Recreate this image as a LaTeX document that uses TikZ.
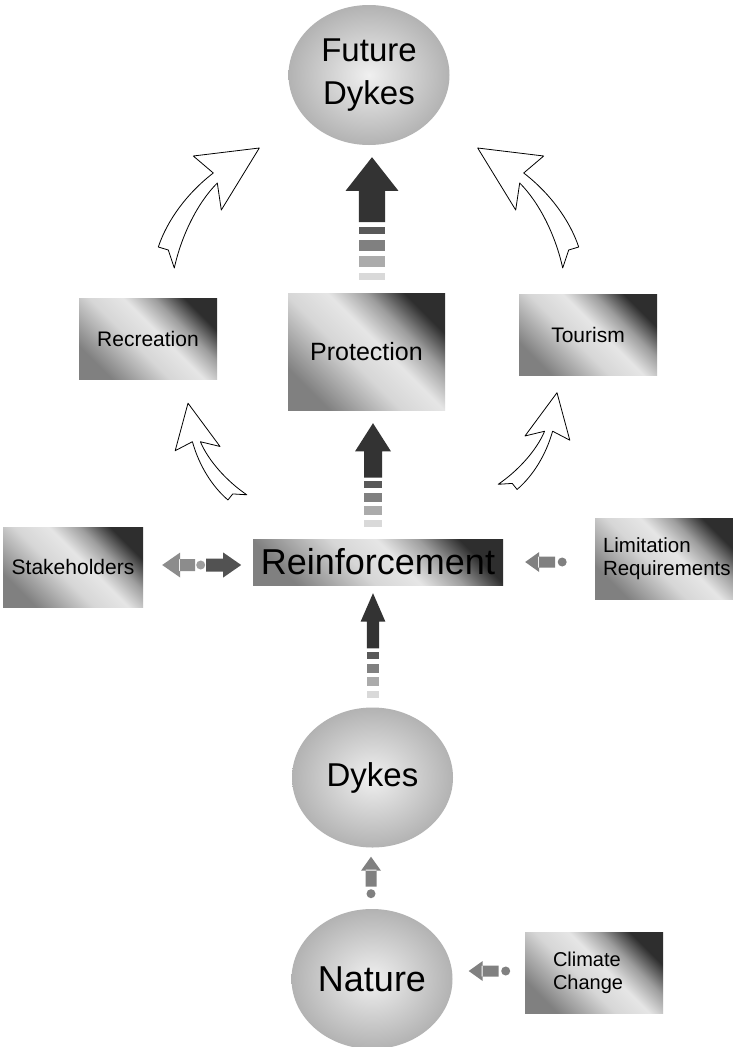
\documentclass[tikz,border=0pt]{standalone}
\usepackage{fontspec}
\setmainfont{Liberation Sans}
\usetikzlibrary{shapes.geometric}
\pgfdeclareverticalshading{panelshade}{100bp}{color(0bp)=(black!50); color(25bp)=(black!50); color(44bp)=(black!16); color(55bp)=(black!10); color(65bp)=(black!38); color(75bp)=(black!82); color(100bp)=(black!82)}
\tikzset{
orb/.style={ellipse, inner sep=0pt, minimum width=161pt, minimum height=140pt, align=center, inner color=gray!12, outer color=gray!60, font=\fontsize{33}{43}\selectfont},
panel/.style={rectangle, inner sep=0pt, minimum width=138pt, minimum height=81pt, shade, shading=panelshade, shading angle=-45, font=\fontsize{21}{23}\selectfont},
pics/fatup/.style={code={
\fill[black!80] (0,0) -- (20,30) -- (10,30) -- (10,58) -- (-10,58) -- (-10,30) -- (-20,30) -- cycle;
\fill[black!65] (-10,62) rectangle (10,69);
\fill[black!50] (-10,74) rectangle (10,84);
\fill[black!33] (-10,88) rectangle (10,98);
\fill[black!15] (-10,103) rectangle (10,110);
}},
pics/greyarrow/.style={code={
\fill[black!50] (0,0) -- (14,-10) -- (14,10) -- cycle (13,-5.5) rectangle (30,5.5) (37,0) circle (4.5);
}},
pics/twoway/.style={code={
\fill[black!45] (0,0) -- (18,-12.5) -- (18,12.5) -- cycle (17,-6) rectangle (33,6);
\fill[black!38] (38.5,0) circle (4.5);
\fill[black!68] (79,0) -- (61,-12.5) -- (61,12.5) -- cycle (44,-6.5) rectangle (62,6.5);
}},
pics/hollowarrow/.style={code={
\draw[line width=0.8pt, line join=round, fill=white] (0,0) -- (-66,8) -- (-46,25) .. controls (-72,45) and (-92,72) .. (-101,99) -- (-91,102) -- (-85,120) .. controls (-78,88) and (-62,55) .. (-42,35) -- (-38,62) -- cycle;
}}
}
\begin{document}
\begin{tikzpicture}[x=1pt, y=-1pt]
\useasboundingbox (0,0) rectangle (733,1047);
\fill[white] (0,0) rectangle (733,1047);
\node[orb](FD) at (369, 75) {Future\\Dykes};
\node[panel](Rec) at (148, 338.5) {Recreation};
\node[panel, minimum width=157pt, minimum height=117pt, font=\fontsize{25}{28}\selectfont](Prot) at (366.5, 351.5) {Protection};
\node[panel](Tour) at (588, 335) {Tourism};
\node[panel, minimum width=140pt, minimum height=80pt](Stake) at (73, 567) {Stakeholders};
\node[panel, minimum width=250pt, minimum height=46pt, font=\fontsize{36}{40}\selectfont](Reinf) at (378, 562) {Reinforcement};
\node[panel, minimum width=140pt, align=left, text width=124pt, font=\fontsize{20.5}{23}\selectfont](Limit) at (665, 558.5) {Limitation\\Requirements};
\node[orb](Dykes) at (372.5, 777.5) {Dykes};
\node[orb, font=\fontsize{36}{40}\selectfont](Nat) at (372, 979) {Nature};
\node[panel, align=left, text width=82pt, font=\fontsize{20}{23}\selectfont](Clim) at (594, 973) {Climate\\Change};
% striped arrows
\pic[xscale=1.32, yscale=1.12] at ([xshift=3pt,yshift=-12pt]FD.south) {fatup};
\pic[xscale=0.9, yscale=0.94] at ([xshift=6.5pt,yshift=-13pt]Prot.south) {fatup};
\pic[xscale=0.62, yscale=0.95] at ([xshift=-5pt,yshift=-8pt]Reinf.south) {fatup};
% grey arrows
\pic at ([xshift=19pt,yshift=2pt]Stake.east) {twoway};
\pic at ([xshift=22pt]Reinf.east) {greyarrow};
\pic at ([xshift=16pt,yshift=8pt]Nat.east) {greyarrow};
\pic[rotate=-90] at ([xshift=-1.5pt,yshift=-9pt]Dykes.south) {greyarrow};
% hollow arrows
\pic at ([xshift=-29pt,yshift=-73pt]FD.west) {hollowarrow};
\pic[xscale=-1] at ([xshift=28pt,yshift=-73pt]FD.east) {hollowarrow};
\pic[rotate=68, scale=0.74] at ([xshift=40pt,yshift=-24pt]Rec.south) {hollowarrow};
\pic[rotate=-68, xscale=-1, scale=0.74] at ([xshift=-31pt,yshift=-17pt]Tour.south) {hollowarrow};
\end{tikzpicture}
\end{document}
